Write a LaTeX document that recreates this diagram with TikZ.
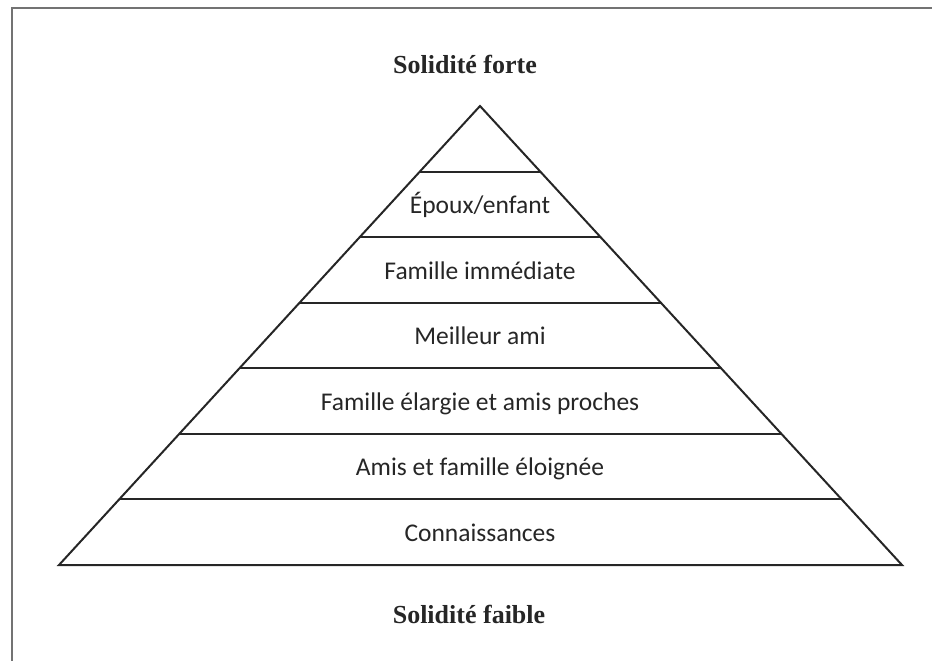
\documentclass[tikz,border=0pt]{standalone}
\usepackage{fontspec}
\setmainfont{Carlito}
\newfontfamily\titlefont{Liberation Serif}
\begin{document}
\begin{tikzpicture}[x=1pt,y=-1pt,
  frameline/.style={draw=black!55,line width=2pt},
  pyrline/.style={draw=black!85,line width=2pt,line join=miter},
  bandlabel/.style={font=\fontsize{25.5}{28}\selectfont,text=black!85,inner sep=0pt,anchor=base},
  titlelabel/.style={font=\titlefont\bfseries\fontsize{26}{30}\selectfont,text=black!85,inner sep=0pt,anchor=base}]
\useasboundingbox (0,0) rectangle (935,661);
% open frame: top and left edges only
\draw[frameline] (11.5,661) -- (11.5,8.5) -- (932,8.5);
% pyramid outline
\coordinate (apex) at (480,106);
\coordinate (bl) at (59,565);
\coordinate (br) at (902,565);
\draw[pyrline] (bl) -- (apex) -- (br) -- cycle;
% horizontal bands: level k sits at y = 106 + k*65.57
\foreach \k in {1,...,6}{
  \pgfmathsetmacro{\yy}{106+\k*65.571}
  \pgfmathsetmacro{\hw}{421.5*\k/7}
  \draw[pyrline] (480-\hw,\yy) -- (480+\hw,\yy);
}
% labels sit on their baselines, about 8.5pt below each band's middle
\node[bandlabel] (b2) at (480,213.5) {Époux/enfant};
\node[bandlabel] (b3) at (480,279) {Famille immédiate};
\node[bandlabel] (b4) at (480,344.5) {Meilleur ami};
\node[bandlabel] (b5) at (480,410) {Famille élargie et amis proches};
\node[bandlabel] (b6) at (480,475.5) {Amis et famille éloignée};
\node[bandlabel] (b7) at (480,541) {Connaissances};
\node[titlelabel] (top) at (465,74) {Solidité forte};
\node[titlelabel] (bottom) at (469,623) {Solidité faible};
\end{tikzpicture}
\end{document}
